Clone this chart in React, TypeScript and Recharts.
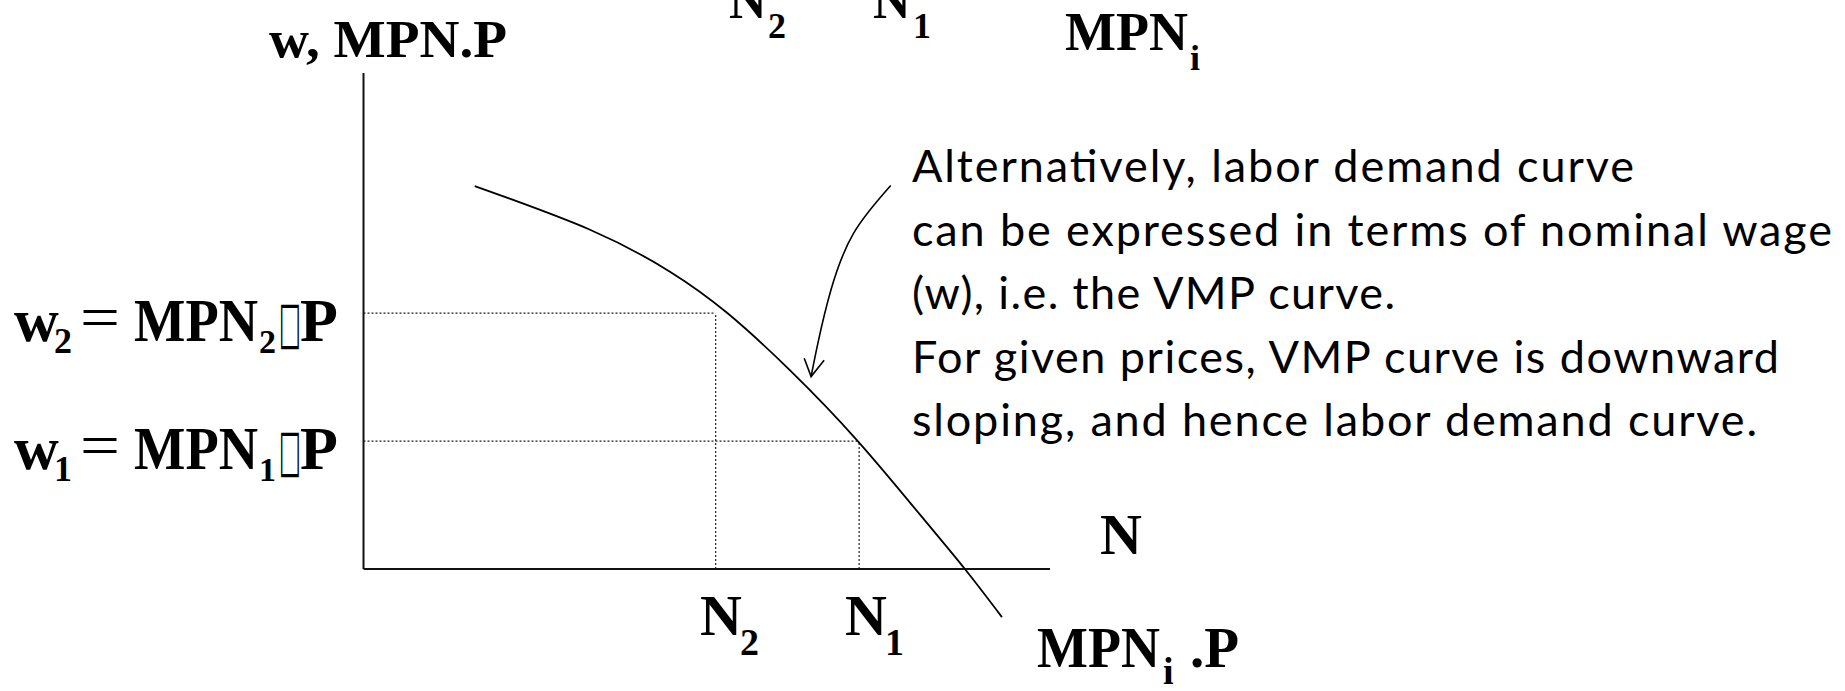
import React from 'react'
import { LineChart, Line, XAxis, YAxis, ReferenceLine } from 'recharts'

// x = N (labour), y = w = MPN·P ; axes meet at (0, 0)
const curveN = [1.62, 3.3, 4.47, 5.3, 6.21, 7.2, 8.11, 8.76, 9.3]
const curveW = [7.72, 6.84, 5.99, 5.16, 4.01, 2.58, 1.09, 0, -0.97]

// the pointer from the note to the curve
const arrowN = [7.68, 7.14, 6.81, 6.62, 6.52]
const arrowW = [7.73, 6.77, 5.63, 4.56, 3.88]
const headN = [6.42, 6.52, 6.71]
const headW = [4.25, 3.88, 4.21]

const N2 = 5.13
const N1 = 7.22
const W2 = 5.16
const W1 = 2.58

const noteLines = [
  'Alternatively, labor demand curve',
  'can be expressed in terms of nominal wage',
  '(w), i.e. the VMP curve.',
  'For given prices, VMP curve is downward',
  'sloping, and hence labor demand curve.',
]
const noteWidths = [722, 920, 483, 867, 845]

const zip = (xs: number[], ys: number[]) => xs.map((n, i) => ({ n, w: ys[i] }))
const curve = zip(curveN, curveW)
const arrow = zip(arrowN, arrowW)
const head = zip(headN, headW)

const serif = '"Liberation Serif", "Times New Roman", serif'
const sans = 'Lato, "Open Sans", sans-serif'
const dotted = { stroke: '#222', strokeWidth: 1.2, strokeDasharray: '2 2' }

function Labels() {
  const big = { fontFamily: serif, fontWeight: 700, fill: '#000' }
  const eq = (y: number, sub: string) => (
    <g>
      <text {...big} x={14} y={y} fontSize={62}>w</text>
      <text {...big} x={54} y={y + 12} fontSize={36}>{sub}</text>
      <text fontFamily={serif} fill="#000" x={80} y={y - 3} fontSize={62} textLength={40} lengthAdjust="spacingAndGlyphs">=</text>
      <text {...big} x={134} y={y} fontSize={62} textLength={124} lengthAdjust="spacingAndGlyphs">MPN</text>
      <text {...big} x={259} y={y + 12} fontSize={34}>{sub}</text>
      <text x={279} y={y + 1} fontSize={58} fontFamily="DejaVu Sans" fill="#000" textLength={22} lengthAdjust="spacingAndGlyphs">□</text>
      <text {...big} x={300} y={y} fontSize={62}>P</text>
    </g>
  )
  return (
    <svg width={1845} height={691} style={{ position: 'absolute', left: 0, top: 0, pointerEvents: 'none' }}>
      <text {...big} x={269} y={57} fontSize={53} textLength={238} lengthAdjust="spacingAndGlyphs">w, MPN.P</text>

      {/* clipped leftovers at the top edge */}
      <text {...big} x={729} y={18} fontSize={52}>N</text>
      <text {...big} x={768} y={38} fontSize={36}>2</text>
      <text {...big} x={873} y={18} fontSize={52}>N</text>
      <text {...big} x={913} y={38} fontSize={36}>1</text>
      <text {...big} x={1065} y={50} fontSize={54}>MPN</text>
      <text {...big} x={1190} y={70} fontSize={36}>i</text>

      {eq(341, '2')}
      {eq(469, '1')}

      <text {...big} x={1100} y={554} fontSize={58}>N</text>
      <text {...big} x={700} y={635} fontSize={58}>N</text>
      <text {...big} x={740} y={655} fontSize={38}>2</text>
      <text {...big} x={845} y={635} fontSize={58}>N</text>
      <text {...big} x={885} y={655} fontSize={38}>1</text>
      <text {...big} x={1037} y={667} fontSize={57} textLength={123} lengthAdjust="spacingAndGlyphs">MPN</text>
      <text {...big} x={1163} y={684} fontSize={38}>i</text>
      <text {...big} x={1190} y={667} fontSize={57}>.P</text>

      {noteLines.map((t, i) => (
        <text key={i} x={912} y={182 + i * 63.6} fontFamily={sans} fontSize={45} fill="#000"
          textLength={noteWidths[i]} lengthAdjust="spacing">{t}</text>
      ))}
    </svg>
  )
}

export default function App() {
  return (
    <div style={{ position: 'fixed', left: 0, top: 0, width: 1845, height: 691, background: '#fff' }}>
      <LineChart width={1845} height={691} margin={{ top: 73, right: 795, bottom: 72.4, left: 363.5 }}>
        <XAxis type="number" dataKey="n" domain={[0, 10]} hide height={0} />
        <YAxis type="number" dataKey="w" domain={[-1, 10]} hide width={0} />

        <ReferenceLine segment={[{ x: 0, y: W2 }, { x: N2, y: W2 }]} {...dotted} />
        <ReferenceLine segment={[{ x: N2, y: 0 }, { x: N2, y: W2 }]} {...dotted} />
        <ReferenceLine segment={[{ x: 0, y: W1 }, { x: N1, y: W1 }]} {...dotted} />
        <ReferenceLine segment={[{ x: N1, y: 0 }, { x: N1, y: W1 }]} {...dotted} />

        <ReferenceLine segment={[{ x: 0, y: 0 }, { x: 0, y: 10 }]} stroke="#111" strokeWidth={2} />
        <ReferenceLine segment={[{ x: 0, y: 0 }, { x: 10, y: 0 }]} stroke="#111" strokeWidth={2} />

        <Line data={curve} dataKey="w" type="natural" stroke="#000" strokeWidth={1.8} dot={false} isAnimationActive={false} />
        <Line data={arrow} dataKey="w" type="natural" stroke="#000" strokeWidth={1.6} dot={false} isAnimationActive={false} />
        <Line data={head} dataKey="w" type="linear" stroke="#000" strokeWidth={1.6} dot={false} isAnimationActive={false} />
      </LineChart>
      <Labels />
    </div>
  )
}
